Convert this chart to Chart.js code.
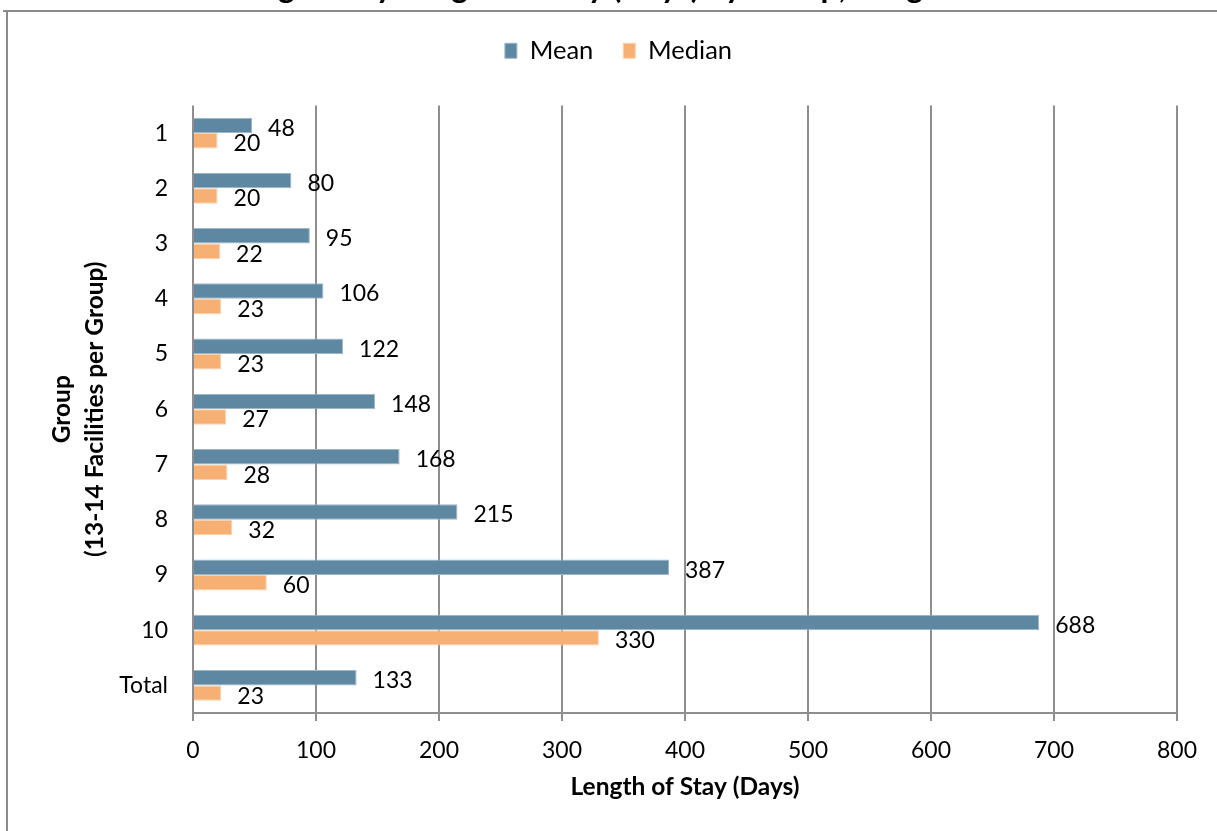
<!DOCTYPE html>
<html>
<head>
<meta charset="utf-8">
<script src="https://cdn.jsdelivr.net/npm/chart.js@4"></script>
<style>
  html, body { margin: 0; padding: 0; background: #fff; }
  #wrap { position: relative; width: 1217px; height: 831px; overflow: hidden; }
  canvas { display: block; }
</style>
</head>
<body>
<div id="wrap"><canvas id="c" width="1217" height="831"></canvas></div>
<script>
const titleText = "Average Daily Length of Stay (Days) by Group, Long-Term";
const categories = ["1", "2", "3", "4", "5", "6", "7", "8", "9", "10", "Total"];
const seriesNames = ["Mean", "Median"];
const meanValues = [48, 80, 95, 106, 122, 148, 168, 215, 387, 688, 133];
const medianValues = [20, 20, 22, 23, 23, 27, 28, 32, 60, 330, 23];
const xTicks = [0, 100, 200, 300, 400, 500, 600, 700, 800];
const xAxisTitle = "Length of Stay (Days)";
const yAxisTitle = ["Group", "(13-14 Facilities per Group)"];

const FONT = "Lato, 'Open Sans', sans-serif";
const GRID = "#8e8e8e";
const PAD_LEFT = 60;

const frameAndTitle = {
  id: "frameAndTitle",
  beforeDraw(chart) {
    const ctx = chart.ctx;
    ctx.save();
    ctx.fillStyle = "#fff";
    ctx.fillRect(0, 0, chart.width, chart.height);
    ctx.font = "bold 32px " + FONT;
    ctx.fillStyle = "#000";
    ctx.textAlign = "center";
    ctx.textBaseline = "alphabetic";
    ctx.fillText(titleText, 600, -2.5);
    ctx.strokeStyle = "#8a8a8a";
    ctx.lineWidth = 2;
    ctx.beginPath();
    ctx.moveTo(3, 11);
    ctx.lineTo(chart.width + 5, 11);
    ctx.moveTo(7, 11);
    ctx.lineTo(7, chart.height + 5);
    ctx.stroke();
    ctx.restore();
  }
};

const valueLabels = {
  id: "valueLabels",
  afterDatasetsDraw(chart) {
    const ctx = chart.ctx;
    ctx.save();
    ctx.font = "23px " + FONT;
    ctx.fillStyle = "#000";
    ctx.textAlign = "left";
    ctx.textBaseline = "middle";
    chart.data.datasets.forEach((ds, di) => {
      const meta = chart.getDatasetMeta(di);
      meta.data.forEach((bar, i) => {
        ctx.fillText(String(ds.data[i]), bar.x + 16, bar.y + 3);
      });
    });
    ctx.restore();
  }
};

new Chart(document.getElementById("c"), {
  type: "bar",
  data: {
    labels: categories,
    datasets: [
      { label: seriesNames[0], data: meanValues, backgroundColor: "#5e87a1", borderColor: "#9db7c9", borderWidth: 1, borderSkipped: "start", xAxisID: "x" },
      { label: seriesNames[1], data: medianValues, backgroundColor: "#f7b074", borderColor: "#fbd2ad", borderWidth: 1, borderSkipped: "start", xAxisID: "x" }
    ]
  },
  options: {
    indexAxis: "y",
    responsive: false,
    animation: false,
    devicePixelRatio: 1,
    layout: { padding: { left: PAD_LEFT, right: 40, top: 8, bottom: 0 } },
    datasets: { bar: { categoryPercentage: 0.56, barPercentage: 1.0 } },
    plugins: {
      legend: {
        position: "top",
        align: "center",
        labels: {
          font: { family: FONT, size: 25.5 },
          color: "#000",
          boxWidth: 12,
          boxHeight: 15,
          padding: 30,
          useBorderRadius: false
        }
      },
      tooltip: { enabled: false }
    },
    scales: {
      x: {
        type: "linear",
        position: "bottom",
        min: 0,
        max: 800,
        afterBuildTicks(scale) { scale.ticks = xTicks.map(v => ({ value: v })); },
        afterFit(scale) { scale.height = 118; },
        ticks: { font: { family: FONT, size: 23 }, color: "#000", padding: 16 },
        grid: { color: GRID, lineWidth: 2, drawTicks: true, tickLength: 8, tickColor: GRID },
        border: { display: true, color: GRID, width: 2 },
        title: {
          display: true,
          text: xAxisTitle,
          font: { family: FONT, size: 24.5, weight: "bold", lineHeight: 1.2 },
          color: "#000",
          padding: { top: 0, bottom: 29 }
        }
      },
      xTopSpacer: {
        type: "linear",
        position: "top",
        display: true,
        min: 0,
        max: 800,
        afterFit(scale) { scale.height = 32; },
        ticks: { display: false },
        grid: { display: false, drawTicks: false },
        border: { display: false }
      },
      y: {
        type: "category",
        afterFit(scale) { scale.width = 193 - PAD_LEFT; },
        ticks: { font: { family: FONT, size: 23 }, color: "#000", padding: 25 },
        grid: { display: false, drawTicks: false },
        border: { display: false },
        title: {
          display: true,
          text: yAxisTitle,
          font: { family: FONT, size: 24.5, weight: "bold", lineHeight: 1.35 },
          color: "#000",
          padding: { top: 45.5 - PAD_LEFT, bottom: 0 }
        }
      }
    }
  },
  plugins: [frameAndTitle, valueLabels]
});
</script>
</body>
</html>
